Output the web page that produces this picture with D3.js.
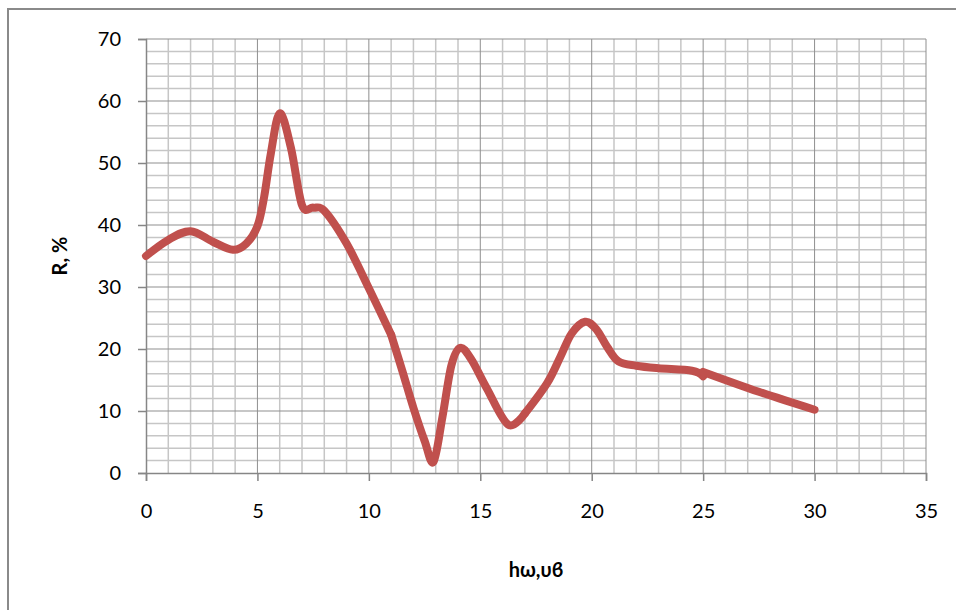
<!DOCTYPE html>
<html>
<head>
<meta charset="utf-8">
<script src="https://cdn.jsdelivr.net/npm/d3@7"></script>
<style>
  body { margin: 0; background: #fff; }
  svg { display: block; font-family: Lato, "Liberation Sans", sans-serif; }
</style>
</head>
<body>
<div id="chart"></div>
<script>
// data, the curve is made of 4 joined series
var hw1 = [0, 1, 2, 3, 3.9, 4.5, 5, 5.3, 5.6, 6, 6.5, 7, 7.5, 8, 9, 10, 11];
var r1  = [35, 37.6, 39, 37.3, 36, 37, 39.8, 44.5, 51.5, 58, 52.5, 43.2, 42.8, 42.3, 37, 29.8, 22.3];
var hw2 = [11, 11.5, 12, 12.5, 12.9, 13.3, 13.7, 14.1, 14.6, 15.3, 16.25, 17];
var r2  = [22.3, 16.5, 10.5, 5.2, 1.8, 9, 17.3, 20.2, 18.3, 13.6, 7.8, 9.6];
var hw3 = [17, 18, 18.6, 19.1, 19.7, 20.2, 20.7, 21.2, 22, 23, 24.5, 25];
var r3  = [9.6, 14.5, 18.8, 22.5, 24.4, 23.2, 20.3, 18, 17.3, 16.9, 16.5, 15.6];
var hw4 = [25, 27.5, 30];
var r4  = [16.3, 13.1, 10.2];

var xTicks = [0, 5, 10, 15, 20, 25, 30, 35];
var yTicks = [0, 10, 20, 30, 40, 50, 60, 70];

var W = 956, H = 610;
var margin = {left: 146, right: 30, top: 39, bottom: 137};
var width = W - margin.left - margin.right;
var height = H - margin.top - margin.bottom;

var svg = d3.select("#chart").append("svg")
    .attr("width", W)
    .attr("height", H);

// outer chart frame (runs off the right and bottom)
svg.append("rect")
    .attr("x", 8).attr("y", 9)
    .attr("width", 1000).attr("height", 700)
    .attr("fill", "none")
    .attr("stroke", "#8a8a8a")
    .attr("stroke-width", 2);

var chart = svg.append("g")
    .attr("transform", "translate(" + margin.left + "," + margin.top + ")");

var x = d3.scaleLinear().domain([0, 35]).range([0, width]);
var y = d3.scaleLinear().domain([0, 70]).range([height, 0]);

// minor grid
var grid = chart.append("g");
grid.selectAll("line.vx")
    .data(d3.range(1, 36).filter(function(d) { return d % 5 != 0; }))
    .enter().append("line")
    .attr("x1", function(d) { return x(d); })
    .attr("x2", function(d) { return x(d); })
    .attr("y1", 0).attr("y2", height)
    .attr("stroke", "#c6c6c6").attr("stroke-width", 1.5);
grid.selectAll("line.hy")
    .data(d3.range(2, 70, 2).filter(function(d) { return d % 10 != 0; }))
    .enter().append("line")
    .attr("y1", function(d) { return y(d); })
    .attr("y2", function(d) { return y(d); })
    .attr("x1", 0).attr("x2", width)
    .attr("stroke", "#c6c6c6").attr("stroke-width", 1.5);

// major grid
grid.selectAll("line.mx")
    .data(xTicks.slice(1))
    .enter().append("line")
    .attr("x1", function(d) { return x(d); })
    .attr("x2", function(d) { return x(d); })
    .attr("y1", 0).attr("y2", height)
    .attr("stroke", "#8f8f8f").attr("stroke-width", 1);
grid.selectAll("line.my")
    .data(yTicks.slice(1))
    .enter().append("line")
    .attr("y1", function(d) { return y(d); })
    .attr("y2", function(d) { return y(d); })
    .attr("x1", 0).attr("x2", width)
    .attr("stroke", "#8f8f8f").attr("stroke-width", 1);

// axes
var xAxis = d3.axisBottom(x).tickValues(xTicks).tickSize(8).tickPadding(23);
var yAxis = d3.axisLeft(y).tickValues(yTicks).tickSize(8).tickPadding(17);

var gx = chart.append("g")
    .attr("transform", "translate(0," + height + ")")
    .call(xAxis);
var gy = chart.append("g").call(yAxis);

[gx, gy].forEach(function(g) {
    g.select(".domain").attr("stroke", "#868686").attr("stroke-width", 1.5);
    g.selectAll(".tick line").attr("stroke", "#868686").attr("stroke-width", 1.5);
    g.selectAll(".tick text")
        .attr("fill", "#000")
        .style("font-family", "Lato, 'Liberation Sans', sans-serif")
        .style("font-size", "20px");
});

// the curve
var line = d3.line()
    .x(function(d) { return x(d[0]); })
    .y(function(d) { return y(d[1]); })
    .curve(d3.curveCardinal.tension(0));

var series = [[hw1, r1], [hw2, r2], [hw3, r3], [hw4, r4]];
chart.selectAll("path.curve")
    .data(series.map(function(s) { return d3.zip(s[0], s[1]); }))
    .enter().append("path")
    .attr("class", "curve")
    .attr("d", line)
    .attr("fill", "none")
    .attr("stroke", "#c0504d")
    .attr("stroke-width", 8)
    .attr("stroke-linecap", "round")
    .attr("stroke-linejoin", "round");

// axis titles
svg.append("text")
    .attr("x", margin.left + width / 2)
    .attr("y", 577)
    .attr("text-anchor", "middle")
    .style("font-size", "20px")
    .style("font-weight", "bold")
    .text("hω,υϐ");

svg.append("text")
    .attr("transform", "translate(67," + (margin.top + height / 2) + ") rotate(-90)")
    .attr("text-anchor", "middle")
    .style("font-size", "20px")
    .style("font-weight", "bold")
    .text("R, %");
</script>
</body>
</html>
